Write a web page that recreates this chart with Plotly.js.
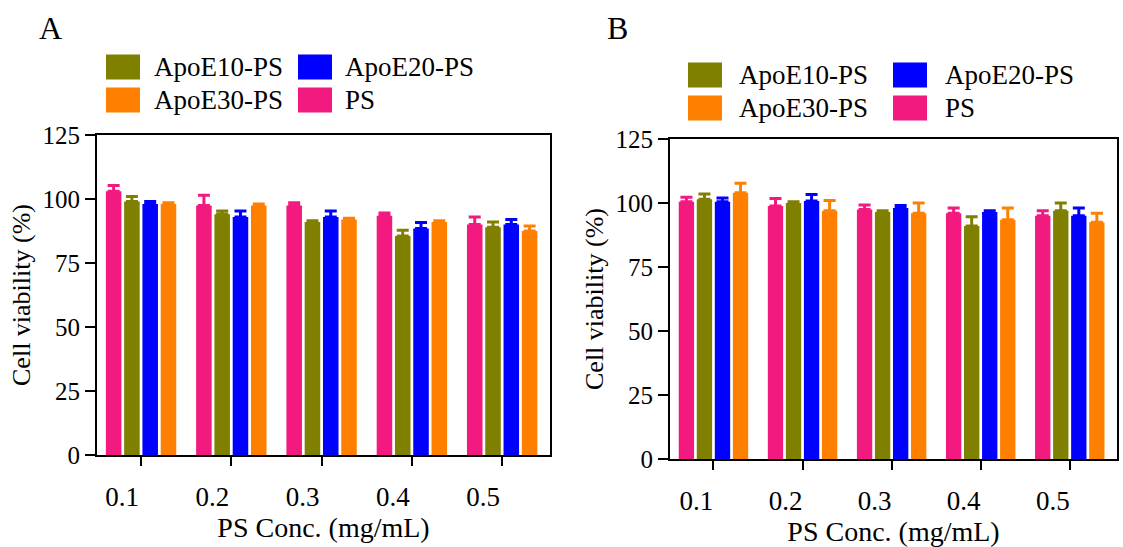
<!DOCTYPE html>
<html>
<head>
<meta charset="utf-8">
<script src="https://cdn.plot.ly/plotly-3.0.1.min.js"></script>
<style>html,body{margin:0;padding:0;background:#fff}#chart{width:1123px;height:547px}</style>
</head>
<body>
<div id="chart"></div>
<script>
// ---- data ----
const concs = ['0.1', '0.2', '0.3', '0.4', '0.5'];
const seriesNames = ['PS', 'ApoE10-PS', 'ApoE20-PS', 'ApoE30-PS'];
const seriesColors = ['#F2197F', '#808000', '#0000FF', '#FF8000'];
const legendOrder = ['ApoE10-PS', 'ApoE20-PS', 'ApoE30-PS', 'PS'];

// Panel A
const A_PS = [103, 97.5, 97.5, 93.5, 90];
const A_PS_err = [2.3, 4, 1, 1, 3];
const A_E10 = [99, 94, 91, 85.5, 89];
const A_E10_err = [2, 1.3, 0.5, 2.3, 2];
const A_E20 = [98, 93, 93, 88.5, 90];
const A_E20_err = [1, 2.3, 2.3, 2.3, 2];
const A_E30 = [98, 97.5, 92, 91, 87.5];
const A_E30_err = [0.5, 0.5, 0.5, 0.5, 2];

// Panel B
const B_PS = [100.5, 98.8, 97.5, 96, 95];
const B_PS_err = [1.7, 3, 1.7, 2, 2];
const B_E10 = [101.5, 100, 96.5, 91, 97];
const B_E10_err = [2, 0.5, 0.5, 3.6, 3];
const B_E20 = [100.5, 100.8, 98, 96.5, 95];
const B_E20_err = [1.5, 2.5, 1, 0.5, 3];
const B_E30 = [104, 97, 96, 93.5, 92.5];
const B_E30_err = [3.7, 4, 4, 4.5, 3.5];

const yTicks = [0, 25, 50, 75, 100, 125];

// ---- build ----
const FONT = 'Liberation Serif, Times New Roman, Times, serif';
const W = 1123, H = 547;
const px = x => x / W;
const py = y => 1 - y / H;

const panelA = [[A_PS, A_PS_err], [A_E10, A_E10_err], [A_E20, A_E20_err], [A_E30, A_E30_err]];
const panelB = [[B_PS, B_PS_err], [B_E10, B_E10_err], [B_E20, B_E20_err], [B_E30, B_E30_err]];

const traces = [];
function addPanel(panel, xa, ya) {
  panel.forEach((s, i) => {
    traces.push({
      type: 'bar', x: concs, y: s[0], name: seriesNames[i],
      xaxis: xa, yaxis: ya, showlegend: false,
      marker: {color: seriesColors[i], line: {width: 0}},
      error_y: {type: 'data', symmetric: false, array: s[1], arrayminus: s[1].map(() => 0),
                color: seriesColors[i], thickness: 3, width: 6}
    });
  });
}
addPanel(panelA, 'x', 'y');
addPanel(panelB, 'x2', 'y2');

function xaxisDef(domain, anchor, shift) {
  return {
    domain: domain, anchor: anchor, type: 'category', range: [-0.488, 4.53],
    showline: true, linecolor: '#000', linewidth: 2, mirror: true,
    ticks: 'outside', ticklen: 9, tickwidth: 2, tickcolor: '#000',
    ticklabelshift: shift, ticklabelstandoff: 8,
    tickfont: {family: FONT, size: 27, color: '#000'},
    showgrid: false, zeroline: false, fixedrange: true,
    title: {text: 'PS Conc. (mg/mL)', font: {family: FONT, size: 28, color: '#000'}, standoff: 0}
  };
}
function yaxisDef(domain, anchor) {
  return {
    domain: domain, anchor: anchor, range: [0, 125],
    tickvals: yTicks, ticktext: yTicks.map(String),
    showline: true, linecolor: '#000', linewidth: 2, mirror: true,
    ticks: 'outside', ticklen: 10, tickwidth: 2, tickcolor: '#000',
    ticklabelstandoff: 0,
    tickfont: {family: FONT, size: 25, color: '#000'},
    showgrid: false, zeroline: false, fixedrange: true,
    title: {text: 'Cell viability (%)', font: {family: FONT, size: 26, color: '#000'}, standoff: 4}
  };
}

// legend made of swatches + labels
const shapes = [];
const annotations = [];
function addLegend(colX, textX, rowY) {
  legendOrder.forEach((name, k) => {
    const c = k % 2, r = Math.floor(k / 2);
    const col = seriesColors[seriesNames.indexOf(name)];
    shapes.push({type: 'rect', xref: 'paper', yref: 'paper',
      x0: px(colX[c]), x1: px(colX[c] + 34), y0: py(rowY[r] + 12.5), y1: py(rowY[r] - 12.5),
      fillcolor: col, line: {width: 0}});
    annotations.push({xref: 'paper', yref: 'paper', x: px(textX[c]), y: py(rowY[r]),
      xanchor: 'left', yanchor: 'middle', showarrow: false, text: name,
      font: {family: FONT, size: 27, color: '#000'}});
  });
}
addLegend([106, 298], [152, 343], [67, 100]);
addLegend([688, 893], [737, 943], [75, 108]);

annotations.push({xref: 'paper', yref: 'paper', x: px(50), y: py(28), xanchor: 'center', yanchor: 'middle',
  showarrow: false, text: 'A', font: {family: FONT, size: 32, color: '#000'}});
annotations.push({xref: 'paper', yref: 'paper', x: px(617), y: py(28), xanchor: 'center', yanchor: 'middle',
  showarrow: false, text: 'B', font: {family: FONT, size: 32, color: '#000'}});

const layout = {
  width: W, height: H,
  margin: {l: 0, r: 0, t: 0, b: 0},
  paper_bgcolor: '#fff', plot_bgcolor: '#fff',
  barmode: 'group', bargap: 0.19, bargroupgap: 0.15,
  showlegend: false,
  font: {family: FONT, color: '#000'},
  xaxis: xaxisDef([px(97), px(550)], 'y', -19),
  yaxis: yaxisDef([py(455), py(135)], 'x'),
  xaxis2: xaxisDef([px(670), px(1117)], 'y2', -17),
  yaxis2: yaxisDef([py(459), py(139)], 'x2'),
  shapes: shapes, annotations: annotations
};

Plotly.newPlot('chart', traces, layout, {displayModeBar: false, staticPlot: true});
</script>
</body>
</html>
